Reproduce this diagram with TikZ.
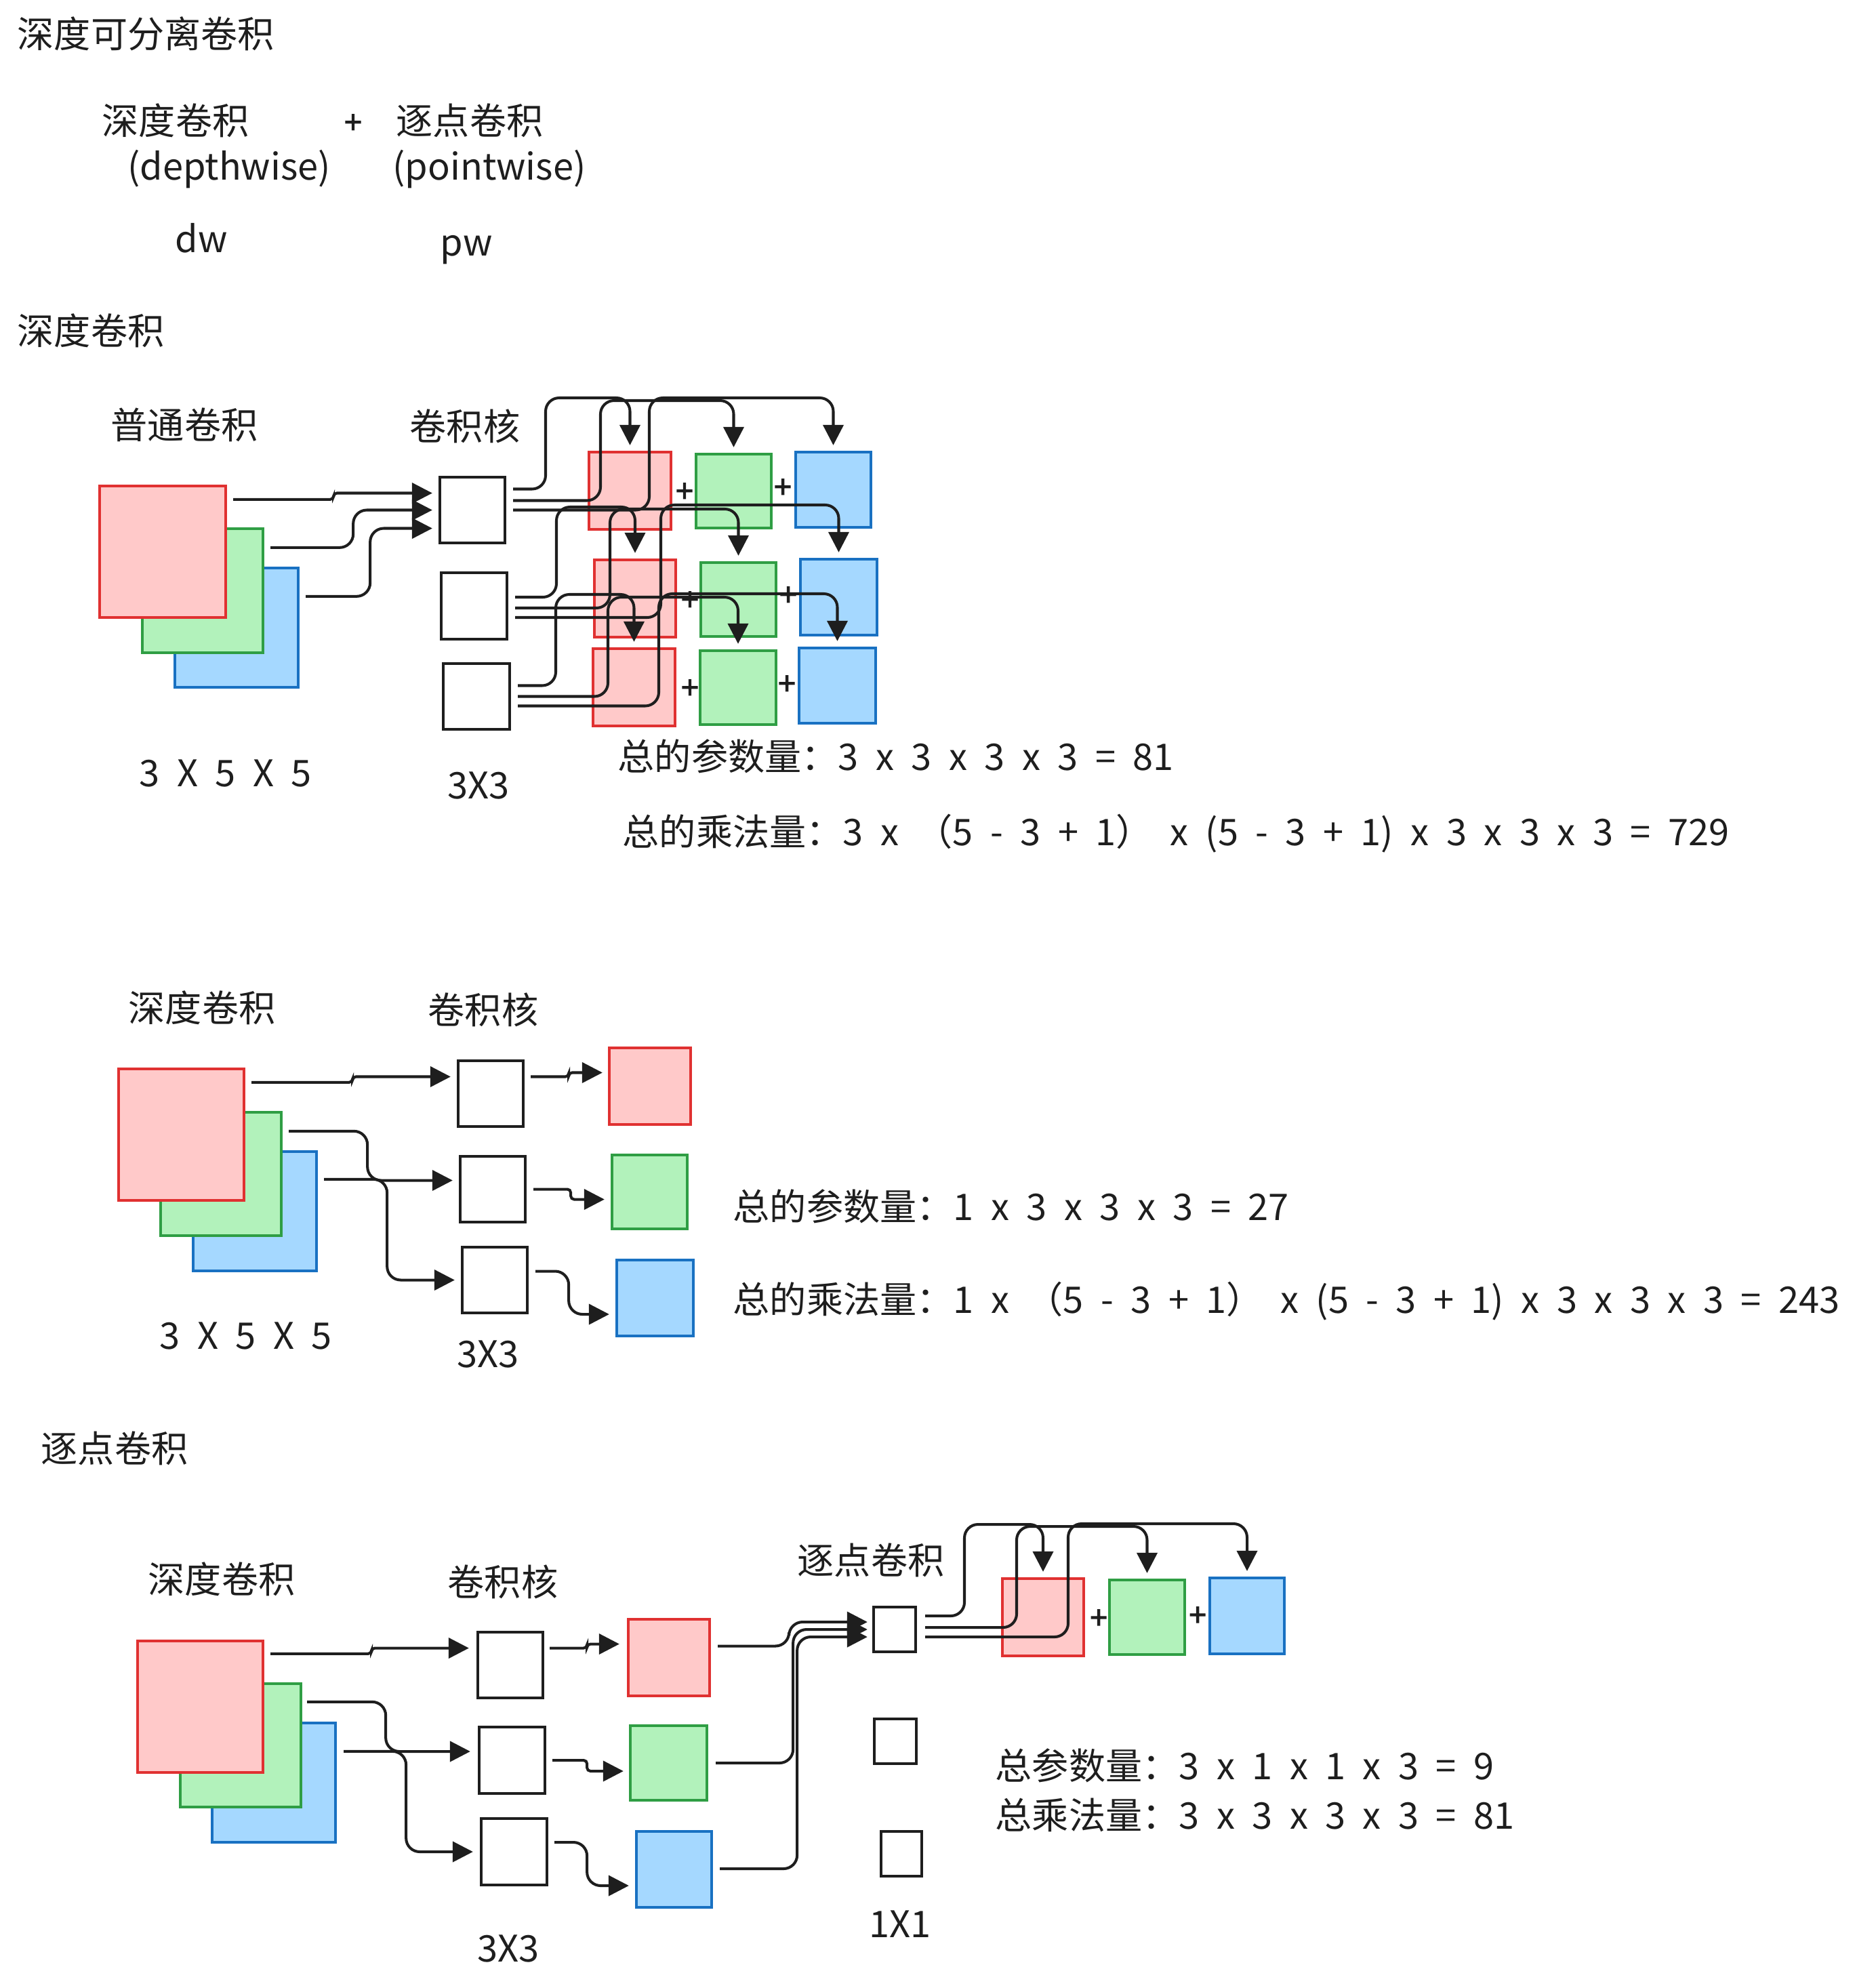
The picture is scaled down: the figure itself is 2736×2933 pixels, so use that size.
\documentclass[tikz,border=0pt]{standalone}
\usepackage{fontspec}
\newfontfamily\cjk{Noto Sans CJK SC}[WordSpace=2.1]
\newfontfamily\cjkbold{Noto Sans CJK SC}[FakeBold=2.5]
\usetikzlibrary{arrows.meta,calc}

\definecolor{ink}{HTML}{1E1E1E}
\definecolor{redline}{HTML}{E03131}
\definecolor{redfill}{HTML}{FFC9C9}
\definecolor{greenline}{HTML}{2F9E44}
\definecolor{greenfill}{HTML}{B2F2BB}
\definecolor{blueline}{HTML}{1971C2}
\definecolor{bluefill}{HTML}{A5D8FF}

\tikzset{
  txt/.style={font=\cjk\fontsize{15.4}{18}\selectfont, text=ink, inner sep=0pt},
  plus/.style={font=\cjkbold\fontsize{13}{15}\selectfont, text=ink, inner sep=0pt},
  sz/.style 2 args={minimum width=#1cm, minimum height=#2cm},
  redsq/.style={draw=redline, fill=redfill, line width=1.2pt, inner sep=0pt},
  greensq/.style={draw=greenline, fill=greenfill, line width=1.2pt, inner sep=0pt},
  bluesq/.style={draw=blueline, fill=bluefill, line width=1.2pt, inner sep=0pt},
  kern/.style={draw=ink, fill=white, line width=1.2pt, inner sep=0pt},
  arr/.style={draw=ink, line width=1.15pt, rounded corners=0.2cm,
    -{Triangle[length=0.3cm,width=0.3cm]}},
  jog/.style={arr, rounded corners=0.05cm},
}

\begin{document}
\begin{tikzpicture}[x=0.01cm, y=-0.01cm]
\useasboundingbox (0,0) rectangle (2736,2933);

% titles
\node[txt, anchor=west] (title) at (25,50) {深度可分离卷积};
\node[txt, anchor=west] (dwname) at (150,178) {深度卷积};
\node[plus] (and) at (521,183) {+};
\node[txt, anchor=west] (pwname) at (584,178) {逐点卷积};
\node[txt] (dwen) at (338,250) {(depthwise)};
\node[txt] (pwen) at (722,250) {(pointwise)};
\node[txt, anchor=base] (dw) at (297,372) {dw};
\node[txt, anchor=base] (pw) at (688,377) {pw};

% ---- normal convolution
\node[txt, anchor=west] (sec1) at (25,488) {深度卷积};
\node[txt] (lbl1a) at (272,627) {普通卷积};
\node[txt] (lbl1b) at (686,629) {卷积核};

\node[bluesq, sz={1.82}{1.76}] (b1) at (349,926) {};
\node[greensq, sz={1.78}{1.83}] (g1) at (299,871.5) {};
\node[redsq, sz={1.86}{1.94}] (r1) at (240,814) {};

\node[kern, sz={0.96}{0.97}] (k1a) at (697,752.5) {};
\node[kern, sz={0.97}{0.98}] (k1b) at (699.5,894) {};
\node[kern, sz={0.98}{0.97}] (k1c) at (703,1027.5) {};

\node[redsq, sz={1.21}{1.14}] (o11) at (929.5,724) {};
\node[greensq, sz={1.11}{1.09}] (o12) at (1082.5,724.5) {};
\node[bluesq, sz={1.11}{1.11}] (o13) at (1229.5,722.5) {};
\node[redsq, sz={1.20}{1.14}] (o21) at (937,883) {};
\node[greensq, sz={1.11}{1.09}] (o22) at (1089.5,884.5) {};
\node[bluesq, sz={1.13}{1.12}] (o23) at (1237.5,881) {};
\node[redsq, sz={1.21}{1.14}] (o31) at (935.5,1014) {};
\node[greensq, sz={1.12}{1.09}] (o32) at (1089,1014.5) {};
\node[bluesq, sz={1.13}{1.11}] (o33) at (1235.5,1011.5) {};

\node[plus] (p11) at (1010,727) {+};
\node[plus] (p12) at (1155,721) {+};
\node[plus] (p21) at (1018,887) {+};
\node[plus] (p22) at (1163,880) {+};
\node[plus] (p31) at (1018,1017) {+};
\node[plus] (p32) at (1161,1011) {+};

\draw[jog] ($(r1.north east)+(9,22)$) -- ++(148,0) |- ($(k1a.west)+(-9,-25)$);
\draw[arr] ($(g1.north east)+(9,30)$) -- ++(122,0) |- ($(k1a.west)+(-9,0)$);
\draw[arr] ($(b1.north east)+(9,44)$) -- ++(95,0) |- ($(k1a.west)+(-9,27)$);

\draw[arr] ($(k1a.east)+(10,-31)$) -| (805,587) -| ($(o11.north)+(0,-8)$);
\draw[arr] ($(k1a.east)+(10,-14)$) -| (886,591) -| ($(o12.north)+(0,-8)$);
\draw[arr] ($(k1a.east)+(10,0)$) -| (958,587) -| ($(o13.north)+(0,-8)$);
\draw[arr] ($(k1b.east)+(10,-13)$) -| (821,748) -| ($(o21.north)+(0,-8)$);
\draw[arr] ($(k1b.east)+(10,3)$) -| (900,751) -| ($(o22.north)+(0,-8)$);
\draw[arr] ($(k1b.east)+(10,17)$) -| (975,745) -| ($(o23.north)+(0,-8)$);
\draw[arr] ($(k1c.east)+(10,-16)$) -| (820,877) -| ($(o31.north)+(0,-8)$);
\draw[arr] ($(k1c.east)+(10,0)$) -| (897,881) -| ($(o32.north)+(0,-8)$);
\draw[arr] ($(k1c.east)+(10,14)$) -| (972,876) -| ($(o33.north)+(0,-8)$);

\node[txt] (dim1) at (333,1141) {3 X 5 X 5};
\node[txt] (ks1) at (706,1159) {3X3};
\node[txt, anchor=west] (f1) at (911,1116) {总的参数量：3 x 3 x 3 x 3 = 81};
\node[txt, anchor=west] (f2) at (918,1230) {总的乘法量：3 x （5 - 3 + 1） x (5 - 3 + 1) x 3 x 3 x 3 = 729};

% ---- depthwise
\node[txt] (lbl2a) at (298,1487) {深度卷积};
\node[txt] (lbl2b) at (713,1490) {卷积核};

\node[bluesq, sz={1.82}{1.76}] (b2) at (376,1787) {};
\node[greensq, sz={1.78}{1.82}] (g2) at (326,1732) {};
\node[redsq, sz={1.85}{1.94}] (r2) at (267.5,1674) {};

\node[kern, sz={0.96}{0.97}] (k2a) at (724,1613.5) {};
\node[kern, sz={0.96}{0.97}] (k2b) at (727,1754.5) {};
\node[kern, sz={0.96}{0.97}] (k2c) at (730,1888.5) {};

\node[redsq, sz={1.20}{1.13}] (q1) at (959,1602.5) {};
\node[greensq, sz={1.11}{1.09}] (q2) at (958.5,1758.5) {};
\node[bluesq, sz={1.13}{1.12}] (q3) at (966.5,1915) {};

\draw[jog] ($(r2.north east)+(9,22)$) -- ++(149,0) |- ($(k2a.west)+(-9,-25)$);
\draw[arr] ($(g2.north east)+(9,30)$) -- ++(116,0) |- ($(k2b.west)+(-9,-13)$);
\draw[arr] ($(b2.north east)+(9,43)$) -- ++(93,0) |- ($(k2c.west)+(-9,0)$);
\draw[jog] ($(k2a.east)+(9,-25)$) -- ++(56,0) |- ($(q1.west)+(-8,-20)$);
\draw[jog] ($(k2b.east)+(10,0)$) -- ++(55,0) |- ($(q2.west)+(-9,11)$);
\draw[arr] ($(k2c.east)+(10,-13)$) -- ++(49,0) |- ($(q3.west)+(-9,24)$);

\node[txt] (dim2) at (363,1971) {3 X 5 X 5};
\node[txt] (ks2) at (720,1998) {3X3};
\node[txt, anchor=west] (f3) at (1081,1780) {总的参数量：1 x 3 x 3 x 3 = 27};
\node[txt, anchor=west] (f4) at (1081,1920) {总的乘法量：1 x （5 - 3 + 1） x (5 - 3 + 1) x 3 x 3 x 3 = 243};

% ---- pointwise
\node[txt, anchor=west] (sec3) at (60,2137) {逐点卷积};
\node[txt] (lbl3a) at (327,2330) {深度卷积};
\node[txt] (lbl3b) at (742,2334) {卷积核};
\node[txt] (lbl3c) at (1285,2302) {逐点卷积};

\node[bluesq, sz={1.82}{1.76}] (b3) at (404,2630) {};
\node[greensq, sz={1.78}{1.82}] (g3) at (355,2575) {};
\node[redsq, sz={1.85}{1.94}] (r3) at (295.5,2518) {};

\node[kern, sz={0.96}{0.97}] (k3a) at (753,2456.5) {};
\node[kern, sz={0.97}{0.98}] (k3b) at (755.5,2597) {};
\node[kern, sz={0.97}{0.98}] (k3c) at (758.5,2732) {};

\node[redsq, sz={1.20}{1.13}] (s1) at (987,2445.5) {};
\node[greensq, sz={1.13}{1.10}] (s2) at (986.5,2601) {};
\node[bluesq, sz={1.11}{1.12}] (s3) at (994.5,2758) {};

\node[kern, sz={0.62}{0.66}] (pw1) at (1320,2404) {};
\node[kern, sz={0.62}{0.66}] (pw2) at (1321,2569) {};
\node[kern, sz={0.60}{0.66}] (pw3) at (1330,2735) {};

\node[redsq, sz={1.20}{1.14}] (u1) at (1539,2386) {};
\node[greensq, sz={1.11}{1.10}] (u2) at (1692.5,2386) {};
\node[bluesq, sz={1.10}{1.12}] (u3) at (1840,2384) {};
\node[plus] (p41) at (1621,2389) {+};
\node[plus] (p42) at (1767,2385) {+};

\draw[jog] ($(r3.north east)+(9,21)$) -- ++(149,0) |- ($(k3a.west)+(-11,-25)$);
\draw[arr] ($(g3.north east)+(7,29)$) -- ++(116,0) |- ($(k3b.west)+(-11,-13)$);
\draw[arr] ($(b3.north east)+(10,44)$) -- ++(92,0) |- ($(k3c.west)+(-10,0)$);
\draw[jog] ($(k3a.east)+(8,-25)$) -- ++(55,0) |- ($(s1.west)+(-11,-20)$);
\draw[jog] ($(k3b.east)+(9,0)$) -- ++(51,0) |- ($(s2.west)+(-8,12)$);
\draw[arr] ($(k3c.east)+(9,-14)$) -- ++(48,0) |- ($(s3.west)+(-9,24)$);

\draw[arr] ($(s1.east)+(10,-17)$) -- ++(105,0) |- ($(pw1.west)+(-7,-11)$);
\draw[arr] ($(s2.east)+(11,0)$) -- ++(114,0) |- ($(pw1.west)+(-7,0)$);
\draw[arr] ($(s3.east)+(10,-1)$) -- ++(114,0) |- ($(pw1.west)+(-7,11)$);

\draw[arr] ($(pw1.east)+(12,-20)$) -| (1423,2249) -| ($(u1.north)+(0,-8)$);
\draw[arr] ($(pw1.east)+(12,-3)$) -| (1500,2252) -| ($(u2.north)+(0,-8)$);
\draw[arr] ($(pw1.east)+(12,11)$) -| (1576,2248) -| ($(u3.north)+(0,-8)$);

\node[txt] (ks3) at (750,2875) {3X3};
\node[txt] (ks4) at (1328,2839) {1X1};
\node[txt, anchor=west] (f5) at (1468,2605) {总参数量：3 x 1 x 1 x 3 = 9};
\node[txt, anchor=west] (f6) at (1468,2678) {总乘法量：3 x 3 x 3 x 3 = 81};
\end{tikzpicture}
\end{document}
